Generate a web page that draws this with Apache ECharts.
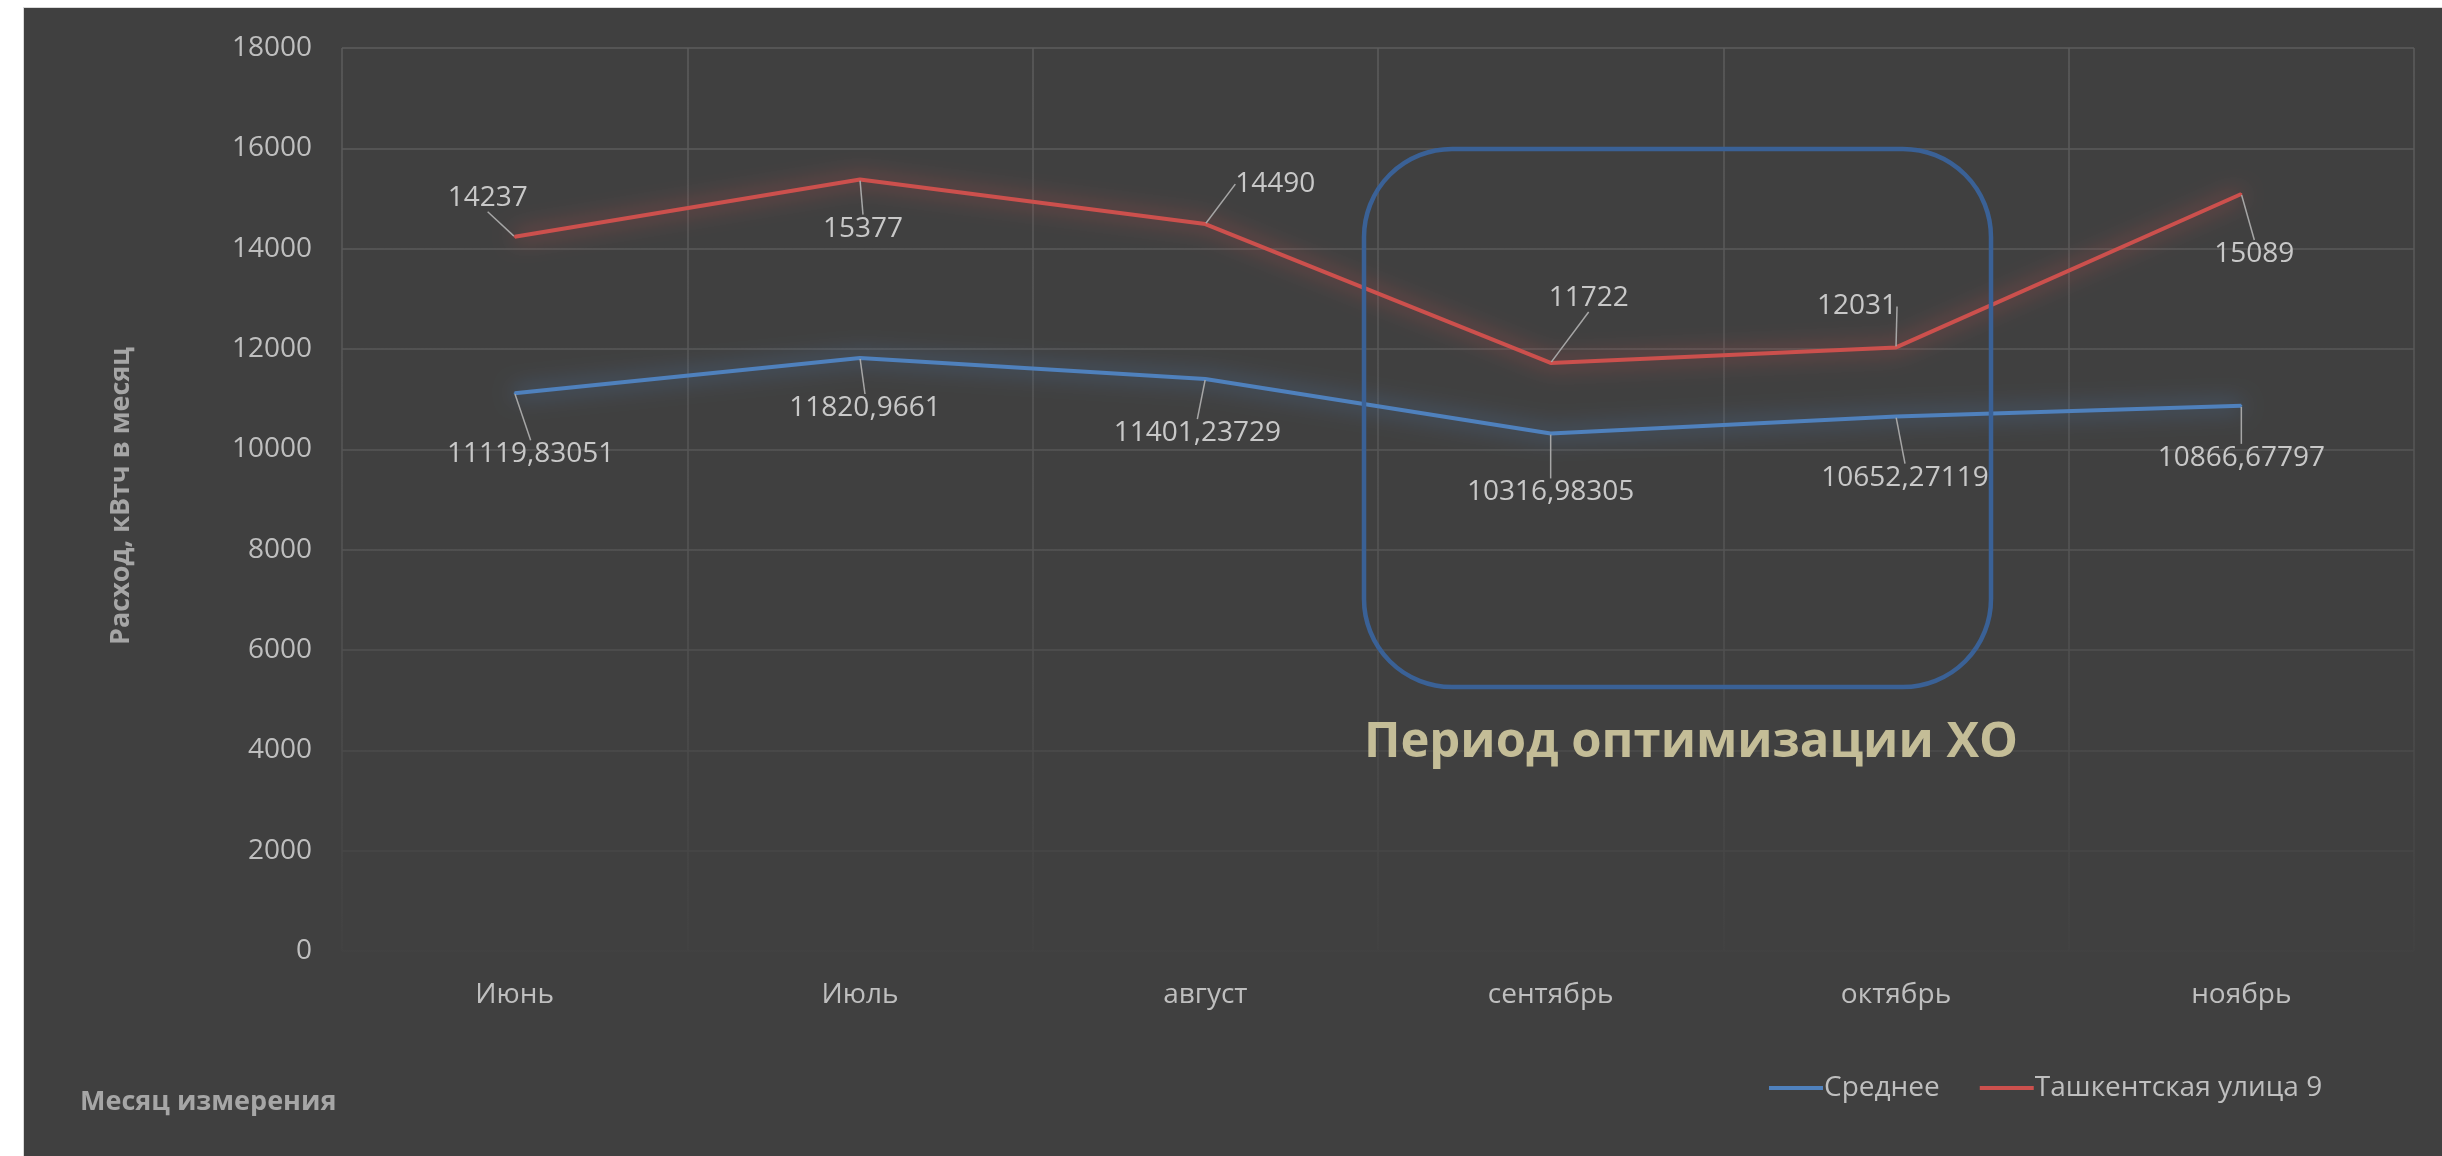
<!DOCTYPE html>
<html>
<head>
<meta charset="utf-8">
<script src="https://cdn.jsdelivr.net/npm/echarts@6/dist/echarts.min.js"></script>
<style>
html,body{margin:0;padding:0;background:#ffffff;width:2442px;height:1156px;overflow:hidden;}
#chart{position:absolute;left:23px;top:7px;width:2419px;height:1149px;border-left:1px solid #d9d9d9;border-top:1px solid #d9d9d9;box-sizing:border-box;}
</style>
</head>
<body>
<div id="chart"></div>
<script>
// ---- data ----
const categories = ['Июнь', 'Июль', 'август', 'сентябрь', 'октябрь', 'ноябрь'];
const seriesNames = ['Среднее', 'Ташкентская улица 9'];
const avgValues = [11119.83051, 11820.9661, 11401.23729, 10316.98305, 10652.27119, 10866.67797];
const tashkentValues = [14237, 15377, 14490, 11722, 12031, 15089];
const yTicks = { min: 0, max: 18000, interval: 2000 };
const yAxisTitle = 'Расход, кВтч в месяц';
const xAxisTitle = 'Месяц измерения';
const annotationText = 'Период оптимизации ХО';

// ---- label placement (offsets of label centres from their points, px) ----
const labelOffsets = [
  [[16, 61], [5, 50], [-8, 54], [0, 59], [9, 61], [0, 52]],
  [[-27, -39], [3, 49], [70, -40], [38, -65], [-39, -41], [13, 60]]
];

const FONT = '"Open Sans", "Noto Sans", sans-serif';
const chart = echarts.init(document.getElementById('chart'), null, { renderer: 'canvas' });

const gridGrad = new echarts.graphic.LinearGradient(0, 40, 0, 943, [
  { offset: 0, color: '#5c5c5c' },
  { offset: 0.55, color: '#555555' },
  { offset: 0.8, color: '#4a4a4a' },
  { offset: 1, color: '#424242' }
], true);

function fmt(v) { return String(v).replace('.', ','); }

function makeSeries(name, data, color, glow, idx) {
  return {
    name: name,
    type: 'line',
    data: data,
    symbol: 'circle',
    symbolSize: 2,
    itemStyle: { color: color },
    lineStyle: { color: color, width: 4, shadowBlur: 22, shadowColor: glow },
    label: {
      show: true,
      position: 'inside',
      color: '#c8c8c8',
      fontSize: 28,
      fontFamily: FONT,
      formatter: p => fmt(p.value)
    },
    labelLine: { show: true, length2: 0, lineStyle: { color: '#a6a6a6', width: 1.5 } },
    labelLayout: function (p) {
      const o = labelOffsets[idx][p.dataIndex];
      return { dx: o[0], dy: o[1] };
    },
    emphasis: { disabled: true },
    z: 3
  };
}

const option = {
  backgroundColor: '#404040',
  animation: false,
  textStyle: { fontFamily: FONT },
  grid: { left: 318, top: 40, right: 28, bottom: 205, containLabel: false },
  legend: {
    data: seriesNames,
    left: 1740,
    top: 1061,
    icon: 'rect',
    itemWidth: 54,
    itemHeight: 4,
    itemGap: 40,
    textStyle: { color: '#bfbfbf', fontSize: 28, fontFamily: FONT, padding: [0, 0, 0, -4] }
  },
  xAxis: {
    type: 'category',
    data: categories,
    boundaryGap: true,
    axisLine: { show: false },
    axisTick: { show: false },
    axisLabel: { color: '#bfbfbf', fontSize: 28, margin: 30, fontFamily: FONT },
    splitLine: { show: true, interval: 0, lineStyle: { color: gridGrad, width: 1.5 } }
  },
  yAxis: {
    type: 'value',
    min: yTicks.min,
    max: yTicks.max,
    interval: yTicks.interval,
    axisLine: { show: false },
    axisTick: { show: false },
    axisLabel: { color: '#bfbfbf', fontSize: 28, margin: 30, fontFamily: FONT, formatter: v => String(v) },
    splitLine: { show: true, lineStyle: { color: gridGrad, width: 1.5 } }
  },
  series: [
    makeSeries(seriesNames[0], avgValues, '#4f81bd', 'rgba(79,129,189,1)', 0),
    makeSeries(seriesNames[1], tashkentValues, '#cc504d', 'rgba(204,80,77,1)', 1)
  ],
  graphic: [
    {
      type: 'rect',
      shape: { x: 1340, y: 141, width: 627, height: 538, r: 88 },
      style: { fill: 'none', stroke: '#3a6196', lineWidth: 4.5 },
      z: 10
    },
    {
      type: 'text',
      x: 1667, y: 735,
      style: {
        text: annotationText,
        fill: '#c4bd97',
        font: 'bold 49px ' + FONT,
        align: 'center',
        verticalAlign: 'middle'
      },
      z: 10
    },
    {
      type: 'text',
      x: 97, y: 488,
      rotation: Math.PI / 2,
      style: {
        text: yAxisTitle,
        fill: '#a6a6a6',
        font: 'bold 27px ' + FONT,
        align: 'center',
        verticalAlign: 'middle'
      }
    },
    {
      type: 'text',
      x: 56, y: 1094,
      style: {
        text: xAxisTitle,
        fill: '#a6a6a6',
        font: 'bold 27px ' + FONT,
        align: 'left',
        verticalAlign: 'middle'
      }
    }
  ]
};
chart.setOption(option);
</script>
</body>
</html>
